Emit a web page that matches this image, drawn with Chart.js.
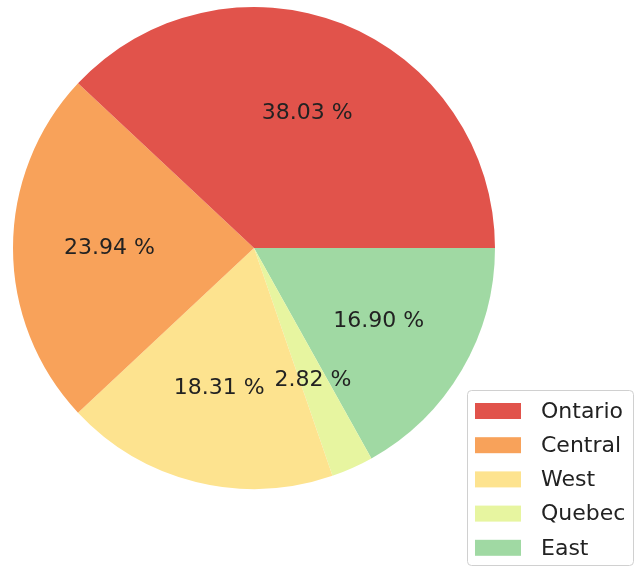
<!DOCTYPE html>
<html>
<head>
<meta charset="utf-8">
<script src="https://cdn.jsdelivr.net/npm/chart.js@4"></script>
<style>
  html, body { margin: 0; padding: 0; background: #fff; }
  #wrap { width: 635px; height: 567px; position: relative; }
</style>
</head>
<body>
<div id="wrap"><canvas id="pie"></canvas></div>
<script>
// region shares in percent, matplotlib order (counter-clockwise from 3 o'clock)
const regions = ["Ontario", "Central", "West", "Quebec", "East"];
const shares = [38.03, 23.94, 18.31, 2.82, 16.90];
const colors = ["#E1534B", "#F8A25A", "#FDE38F", "#E7F5A0", "#A0D9A3"];

// Chart.js draws clockwise, so feed the slices reversed and start at 3 o'clock
const revLabels = regions.slice().reverse();
const revShares = shares.slice().reverse();
const revColors = colors.slice().reverse();

const FONT = "DejaVu Sans";

// percent text at 0.6 of the radius, like autopct
const pctLabels = {
  id: "pctLabels",
  afterDatasetsDraw(chart) {
    const ctx = chart.ctx;
    const meta = chart.getDatasetMeta(0);
    ctx.save();
    ctx.font = "22px '" + FONT + "'";
    ctx.fillStyle = "#222";
    ctx.textAlign = "center";
    ctx.textBaseline = "middle";
    meta.data.forEach((arc, i) => {
      const p = arc.getProps(["x", "y", "startAngle", "endAngle", "outerRadius"], true);
      const mid = (p.startAngle + p.endAngle) / 2;
      const r = p.outerRadius * 0.6;
      const v = chart.data.datasets[0].data[i];
      ctx.fillText(v.toFixed(2) + " %", p.x + Math.cos(mid) * r, p.y + Math.sin(mid) * r);
    });
    ctx.restore();
  }
};

// legend box in the lower right corner
const boxLegend = {
  id: "boxLegend",
  afterDraw(chart) {
    const ctx = chart.ctx;
    const bx = 467, by = 390, bw = 166, bh = 175;
    ctx.save();
    ctx.beginPath();
    ctx.roundRect(bx + 0.5, by + 0.5, bw, bh, 4);
    ctx.fillStyle = "rgba(255,255,255,0.8)";
    ctx.fill();
    ctx.strokeStyle = "#d0d0d0";
    ctx.lineWidth = 1;
    ctx.stroke();
    ctx.font = "22px '" + FONT + "'";
    ctx.textBaseline = "middle";
    ctx.fillStyle = "#222";
    regions.forEach((name, i) => {
      const cy = 411 + i * 34.2;
      ctx.fillStyle = colors[i];
      ctx.fillRect(475, cy - 8, 46, 16);
      ctx.fillStyle = "#222";
      ctx.fillText(name, 541, cy + 1);
    });
    ctx.restore();
  }
};

new Chart(document.getElementById("pie"), {
  type: "pie",
  data: {
    labels: revLabels,
    datasets: [{
      data: revShares,
      backgroundColor: revColors,
      borderWidth: 0
    }]
  },
  options: {
    responsive: true,
    maintainAspectRatio: false,
    animation: false,
    rotation: 90,
    layout: { padding: { left: 13, top: 7, right: 140, bottom: 78 } },
    plugins: {
      legend: { display: false },
      tooltip: { enabled: false }
    }
  },
  plugins: [pctLabels, boxLegend]
});
</script>
</body>
</html>
